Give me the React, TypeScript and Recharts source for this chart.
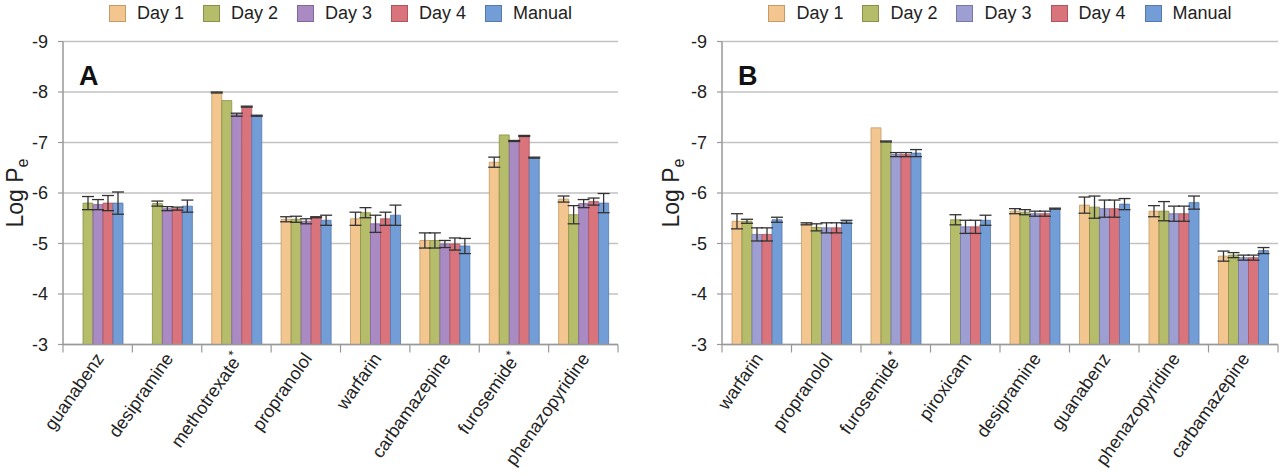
import React from 'react';
import { BarChart, Bar, XAxis, YAxis, CartesianGrid, ErrorBar } from 'recharts';

const seriesNames = ['Day 1', 'Day 2', 'Day 3', 'Day 4', 'Manual'];
const seriesKeys = ['d1', 'd2', 'd3', 'd4', 'm'];

const categoriesA = ['guanabenz', 'desipramine', 'methotrexate*', 'propranolol', 'warfarin', 'carbamazepine', 'furosemide*', 'phenazopyridine'];
const day1A = [null, null, -7.99, -5.48, -5.49, -5.06, -6.61, -5.88];
const day2A = [-5.8, -5.79, -7.83, -5.48, -5.61, -5.06, -7.15, -5.57];
const day3A = [-5.77, -5.69, -7.55, -5.44, -5.39, -4.99, -7.03, -5.79];
const day4A = [-5.8, -5.69, -7.71, -5.52, -5.49, -4.99, -7.13, -5.83];
const manualA = [-5.8, -5.74, -7.53, -5.46, -5.56, -4.95, -6.7, -5.8];
const day1ErrA = [null, null, 0.01, 0.05, 0.13, 0.15, 0.1, 0.06];
const day2ErrA = [0.13, 0.05, null, 0.06, 0.1, 0.15, null, 0.18];
const day3ErrA = [0.1, 0.04, 0.03, 0.05, 0.17, 0.07, 0.01, 0.08];
const day4ErrA = [0.15, 0.03, 0.01, 0.01, 0.13, 0.12, 0.01, 0.07];
const manualErrA = [0.22, 0.12, 0.01, 0.1, 0.2, 0.15, 0.01, 0.19];

const categoriesB = ['warfarin', 'propranolol', 'furosemide*', 'piroxicam', 'desipramine', 'guanabenz', 'phenazopyridine', 'carbamazepine'];
const day1B = [-5.44, -5.39, -7.29, null, -5.64, -5.76, -5.64, -4.75];
const day2B = [-5.44, -5.32, -7.02, -5.47, -5.62, -5.72, -5.64, -4.77];
const day3B = [-5.18, -5.31, -6.76, -5.33, -5.59, -5.69, -5.59, -4.72];
const day4B = [-5.18, -5.31, -6.76, -5.33, -5.59, -5.69, -5.59, -4.72];
const manualB = [-5.47, -5.43, -6.79, -5.46, -5.69, -5.78, -5.81, -4.86];
const day1ErrB = [0.15, 0.02, null, null, 0.05, 0.16, 0.11, 0.1];
const day2ErrB = [0.04, 0.07, 0.01, 0.1, 0.05, 0.22, 0.19, 0.05];
const day3ErrB = [0.13, 0.1, 0.04, 0.13, 0.05, 0.17, 0.15, 0.05];
const day4ErrB = [0.13, 0.1, 0.04, 0.13, 0.05, 0.17, 0.15, 0.05];
const manualErrB = [0.05, 0.03, 0.07, 0.1, 0.01, 0.11, 0.13, 0.06];

const yTicks = [-9, -8, -7, -6, -5, -4, -3];

const fillsA = ['#f3c68f', '#b5bd6a', '#a98ac3', '#d9747d', '#739dd7'];
const fillsB = ['#f3c68f', '#b5bd6a', '#9d9ed2', '#d9747d', '#739dd7'];
const strokesA = ['#c49a68', '#8a9048', '#82669e', '#ad5660', '#5579ae'];
const strokesB = ['#c49a68', '#8a9048', '#7677a8', '#ad5660', '#5579ae'];

const FONT = '"Liberation Sans", Arial, Helvetica, sans-serif';

function buildRows(cats: string[], vals: (number | null)[][], errs: (number | null)[][]) {
  return cats.map((c, i) => {
    const row: any = { name: c };
    seriesKeys.forEach((k, s) => {
      row[k] = vals[s][i];
      row[k + 'e'] = errs[s][i];
    });
    return row;
  });
}

const dataA = buildRows(categoriesA, [day1A, day2A, day3A, day4A, manualA], [day1ErrA, day2ErrA, day3ErrA, day4ErrA, manualErrA]);
const dataB = buildRows(categoriesB, [day1B, day2B, day3B, day4B, manualB], [day1ErrB, day2ErrB, day3ErrB, day4ErrB, manualErrB]);

const makeXTick = (step: number, count: number) => (props: any) => {
  const { x, y, payload, index } = props;
  const label: string = payload.value;
  const star = label.endsWith('*');
  const base = star ? label.slice(0, -1) : label;
  return (
    <g>
      <line x1={x - step / 2} x2={x - step / 2} y1={y} y2={y + 8} stroke="#999" strokeWidth={1.2} />
      {index === count - 1 && (
        <line x1={x + step / 2} x2={x + step / 2} y1={y} y2={y + 8} stroke="#999" strokeWidth={1.2} />
      )}
      <text
        transform={`translate(${x + 7},${y + 14}) rotate(-55)`}
        textAnchor="end"
        fontSize={18}
        fontFamily={FONT}
        fill="#222"
      >
        {base}
        {star && (
          <tspan fontSize={13} dy={-7}>*</tspan>
        )}
      </text>
    </g>
  );
};

const YLabel = (labelX: number) => (props: any) => {
  const vb = props.viewBox || {};
  const cy = vb.y + vb.height / 2;
  return (
    <text
      transform={`translate(${labelX},${cy}) rotate(-90)`}
      textAnchor="middle"
      fontSize={23}
      fontFamily={FONT}
      fill="#222"
    >
      Log P<tspan fontSize={16} dy={5}>e</tspan>
    </text>
  );
};

type PanelProps = {
  data: any[];
  fills: string[];
  strokes: string[];
  letter: string;
  left: number;
  yAxisWidth: number;
  rightMargin: number;
  yLabelX: number;
};

const Panel = ({ data, fills, strokes, letter, left, yAxisWidth, rightMargin, yLabelX }: PanelProps) => {
  const W = 640;
  const H = 476;
  const top = 41.5;
  const xAxisH = 131.5;
  const plotW = W - yAxisWidth - rightMargin;
  const step = plotW / data.length;
  return (
    <div style={{ position: 'absolute', left, top: 0, width: W, height: H }}>
      <BarChart
        width={W}
        height={H}
        data={data}
        margin={{ top, right: rightMargin, bottom: 0, left: 0 }}
        barGap={0}
        barSize={10}
      >
        <CartesianGrid vertical={false} stroke="#c2c2c2" strokeWidth={1.4} />
        <XAxis
          dataKey="name"
          height={xAxisH}
          interval={0}
          tickLine={false}
          tickSize={0}
          tickMargin={0}
          axisLine={{ stroke: '#999', strokeWidth: 1.5 }}
          tick={makeXTick(step, data.length)}
        />
        <YAxis
          type="number"
          domain={[-9, -3]}
          ticks={yTicks}
          reversed
          allowDataOverflow
          width={yAxisWidth}
          tickSize={5}
          tickMargin={10}
          axisLine={{ stroke: '#999', strokeWidth: 1.5 }}
          tickLine={{ stroke: '#999', strokeWidth: 1.2 }}
          tick={{ fontSize: 18, fill: '#222', fontFamily: FONT }}
          label={{ content: YLabel(yLabelX) } as any}
        />
        {seriesKeys.map((k, i) => (
          <Bar
            key={k}
            dataKey={k}
            name={seriesNames[i]}
            fill={fills[i]}
            stroke={strokes[i]}
            strokeWidth={0.8}
            isAnimationActive={false}
          >
            <ErrorBar dataKey={k + 'e'} width={6} stroke="#333" strokeWidth={1.3} direction="y" />
          </Bar>
        ))}
      </BarChart>
      <div
        style={{
          position: 'absolute',
          left: yAxisWidth + 16,
          top: 61,
          fontFamily: FONT,
          fontWeight: 'bold',
          fontSize: 27,
          color: '#111',
          lineHeight: '30px',
        }}
      >
        {letter}
      </div>
      <div
        style={{
          position: 'absolute',
          left: yAxisWidth,
          width: plotW,
          top: 2,
          display: 'flex',
          justifyContent: 'center',
          fontFamily: FONT,
          fontSize: 18,
          color: '#222',
        }}
      >
        {seriesNames.map((n, i) => (
          <div key={n} style={{ display: 'flex', alignItems: 'center', marginRight: i < seriesNames.length - 1 ? 19 : 0 }}>
            <div
              style={{
                width: 15,
                height: 15,
                background: fills[i],
                border: `1px solid ${strokes[i]}`,
                marginRight: 11,
              }}
            />
            <span style={{ lineHeight: '22px' }}>{n}</span>
          </div>
        ))}
      </div>
    </div>
  );
};

export default function App() {
  return (
    <div style={{ position: 'absolute', left: 0, top: 0, width: 1280, height: 476, background: '#fff', overflow: 'hidden' }}>
      <Panel data={dataA} fills={fillsA} strokes={strokesA} letter="A" left={0} yAxisWidth={63} rightMargin={22} yLabelX={23} />
      <Panel data={dataB} fills={fillsB} strokes={strokesB} letter="B" left={640} yAxisWidth={82} rightMargin={2} yLabelX={39} />
    </div>
  );
}
